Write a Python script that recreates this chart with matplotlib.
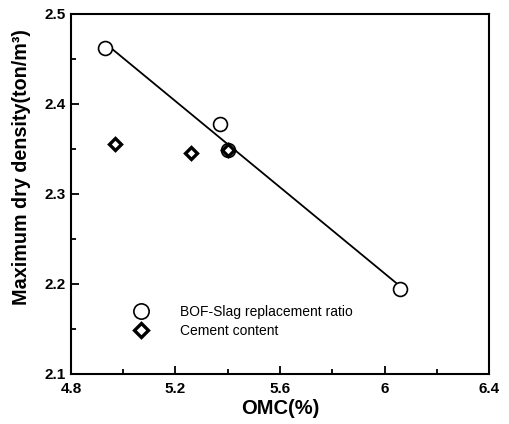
import numpy as np
import matplotlib
matplotlib.use("Agg")
import matplotlib.pyplot as plt
from matplotlib.ticker import MultipleLocator

# BOF-Slag replacement ratio
slag_omc = [4.93, 5.37, 5.40, 6.06]
slag_mdd = [2.462, 2.378, 2.349, 2.194]

# Cement content
cem_omc = [4.97, 5.26, 5.40]
cem_mdd = [2.355, 2.345, 2.349]

xticks = [4.8, 5.2, 5.6, 6.0, 6.4]
xtick_labels = ["4.8", "5.2", "5.6", "6", "6.4"]
yticks = [2.1, 2.2, 2.3, 2.4, 2.5]

plt.rcParams['font.family'] = ['Liberation Sans', 'DejaVu Sans']

fig = plt.figure(figsize=(5.1, 4.24), dpi=100)
ax = fig.add_axes([0.139, 0.118, 0.820, 0.849])

# trend line through the slag points
k, b = np.polyfit(slag_omc, slag_mdd, 1)
xl = np.array([min(slag_omc), max(slag_omc)])
ax.plot(xl, k * xl + b, color="black", lw=1.3, zorder=1)

ax.plot(slag_omc, slag_mdd, "o", ms=10, mfc="white", mec="black", mew=1.2,
        label="BOF-Slag replacement ratio", zorder=2)
ax.plot(cem_omc, cem_mdd, "D", ms=6.5, mfc="white", mec="black", mew=2.4,
        label="Cement content", zorder=3)

ax.set_xlim(4.8, 6.4)
ax.set_ylim(2.1, 2.5)
ax.set_xticks(xticks)
ax.set_xticklabels(xtick_labels)
ax.set_yticks(yticks)
ax.xaxis.set_minor_locator(MultipleLocator(0.2))
ax.yaxis.set_minor_locator(MultipleLocator(0.05))
ax.tick_params(which="both", direction="in", top=False, right=False, width=1.3)
ax.tick_params(which="major", length=6, labelsize=11)
ax.tick_params(axis="x", which="major", pad=6)
ax.tick_params(axis="y", which="major", pad=4)
ax.tick_params(which="minor", length=3.5)
for lab in ax.get_xticklabels() + ax.get_yticklabels():
    lab.set_fontweight("bold")
for s in ax.spines.values():
    s.set_linewidth(1.5)

ax.set_xlabel("OMC(%)", fontsize=14.5, fontweight="bold", labelpad=2)
ax.set_ylabel("Maximum dry density(ton/m³)", fontsize=14.2, fontweight="bold")
ax.yaxis.set_label_coords(-0.095, 0.575)

ax.legend(loc="lower left", bbox_to_anchor=(0.105, 0.065), frameon=False,
          fontsize=10, handletextpad=1.8, labelspacing=0.35, numpoints=1,
          markerscale=1.1)

fig.savefig("out.png", dpi=100)
